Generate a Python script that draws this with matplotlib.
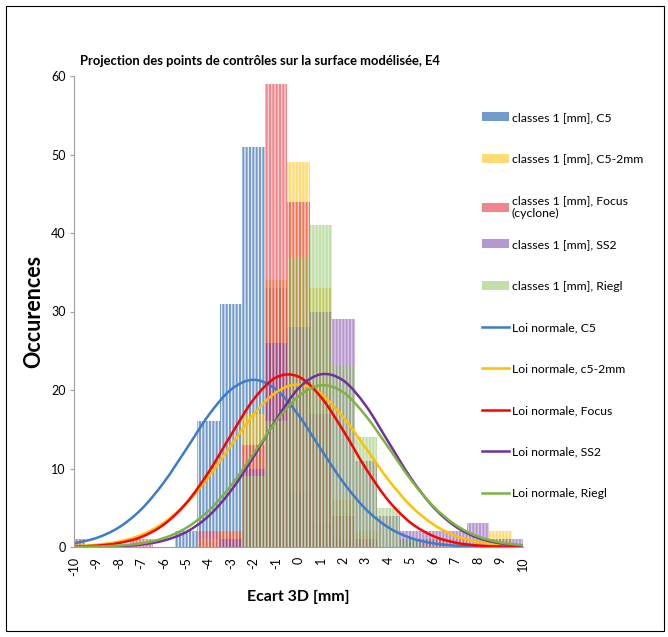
import numpy as np
import matplotlib
matplotlib.use("Agg")
import matplotlib.pyplot as plt
from matplotlib.path import Path
from matplotlib.patches import PathPatch, Patch, Rectangle
from matplotlib.lines import Line2D

plt.rcParams["font.family"] = ["Lato", "DejaVu Sans"]
plt.rcParams["hatch.linewidth"] = 1.0

# classes of 1 mm, from -10 to 10
classes = list(range(-10, 11))

# histogram counts per class
hist_c5 =     [0, 0, 0, 0, 0, 2, 16, 31, 51, 33, 7, 3, 1, 0, 0, 1, 1, 0, 0, 0, 0]
hist_c5_2mm = [1, 0, 0, 0, 0, 0, 1, 2, 17, 34, 49, 33, 6, 2, 0, 0, 1, 1, 0, 2, 0]
hist_focus =  [1, 0, 0, 1, 0, 0, 2, 2, 13, 59, 44, 17, 4, 1, 0, 0, 0, 0, 0, 0, 0]
hist_ss2 =    [0, 0, 0, 0, 0, 0, 0, 1, 10, 26, 28, 30, 29, 11, 4, 2, 2, 2, 3, 1, 1]
hist_riegl =  [0, 0, 0, 0, 0, 0, 0, 0, 9, 16, 37, 41, 23, 14, 5, 1, 0, 0, 0, 0, 0]

# normal law curves, read at each class
norm_c5 =     [0.47, 1.15, 2.50, 4.81, 8.22, 12.46, 16.8, 20.07, 21.3, 20.07, 16.8,
               12.46, 8.22, 4.81, 2.50, 1.15, 0.47, 0.17, 0.06, 0.02, 0.0]
norm_c5_2mm = [0.10, 0.28, 0.69, 1.54, 3.09, 5.55, 8.95, 12.96, 16.9, 19.7, 20.7,
               19.5, 16.5, 12.6, 8.57, 5.25, 2.89, 1.43, 0.64, 0.25, 0.09]
norm_focus =  [0.05, 0.17, 0.51, 1.28, 2.86, 5.59, 9.55, 14.3, 18.8, 21.6, 21.7,
               19.1, 14.8, 10.0, 5.93, 3.08, 1.40, 0.55, 0.19, 0.06, 0.02]
norm_ss2 =    [0.01, 0.03, 0.10, 0.31, 0.82, 1.91, 3.95, 7.2, 11.5, 16.2, 20.2,
               22.0, 21.2, 18.0, 13.4, 8.8, 5.1, 2.6, 1.16, 0.46, 0.16]
norm_riegl =  [0.02, 0.06, 0.18, 0.47, 1.13, 2.43, 4.63, 7.84, 11.9, 16.0, 19.2,
               20.6, 19.7, 16.7, 12.7, 8.6, 5.2, 2.8, 1.33, 0.57, 0.22]

hist_labels = ["classes 1 [mm], C5", "classes 1 [mm], C5-2mm",
               "classes 1 [mm], Focus\n(cyclone)", "classes 1 [mm], SS2",
               "classes 1 [mm], Riegl"]
norm_labels = ["Loi normale, C5", "Loi normale, c5-2mm", "Loi normale, Focus",
               "Loi normale, SS2", "Loi normale, Riegl"]

bar_colors = ["#4F81BD", "#FFC000", "#E6353F", "#7030A0", "#77B843"]
bar_alpha = [0.8, 0.55, 0.6, 0.5, 0.45]
line_colors = ["#3D7CC9", "#FFC000", "#FF0000", "#7030A0", "#7CB342"]


def smooth_path(xs, ys):
    # Excel-like smoothed line: cubic bezier through the points
    pts = np.column_stack([xs, ys]).astype(float)
    ext = np.vstack([pts[0], pts, pts[-1]])
    verts = [pts[0]]
    codes = [Path.MOVETO]
    for i in range(len(pts) - 1):
        p0, p1, p2, p3 = ext[i], ext[i + 1], ext[i + 2], ext[i + 3]
        verts += [p1 + (p2 - p0) / 6, p2 - (p3 - p1) / 6, p2]
        codes += [Path.CURVE4] * 3
    return Path(verts, codes)


fig = plt.figure(figsize=(6.68, 6.37), dpi=100)
ax = fig.add_axes([74 / 668, 90 / 637, 449 / 668, 471 / 637])

hists = [hist_c5, hist_c5_2mm, hist_focus, hist_ss2, hist_riegl]
for h, c, a in zip(hists, bar_colors, bar_alpha):
    ax.bar(classes, h, width=1.0, color=c, alpha=a, hatch="|||||",
           edgecolor="white", linewidth=0)

norms = [norm_c5, norm_c5_2mm, norm_focus, norm_ss2, norm_riegl]
for n, c in zip(norms, line_colors):
    ax.add_patch(PathPatch(smooth_path(classes, n), fill=False,
                           edgecolor=c, linewidth=1.8, capstyle="round"))

ax.set_xlim(-10, 10)
ax.set_ylim(0, 60)
ax.set_xticks(classes)
ax.set_xticklabels([str(v) for v in classes], rotation=90, fontsize=9)
ax.set_yticks(range(0, 61, 10))
ax.tick_params(axis="y", labelsize=9, length=3, color="#A0A0A0", pad=3)
ax.tick_params(axis="x", length=0, pad=7)
for s in ["top", "right"]:
    ax.spines[s].set_visible(False)
for s in ["left", "bottom"]:
    ax.spines[s].set_color("#A0A0A0")

ax.set_xlabel("Ecart 3D [mm]", fontsize=11.5, fontweight="bold", labelpad=10)
ax.set_ylabel("Occurences", fontsize=15.5, fontweight="bold", labelpad=5)
fig.text(260 / 668, 1 - 61 / 637,
         "Projection des points de contrôles sur la surface modélisée, E4",
         ha="center", va="center", fontsize=9.4, fontweight="bold")

handles = [Patch(facecolor=c, alpha=a, linewidth=0) for c, a in zip(bar_colors, bar_alpha)]
handles += [Line2D([], [], color=c, linewidth=1.8) for c in line_colors]
labels = hist_labels + norm_labels

# two legend blocks so the rows keep an even pitch despite the two-line entry
leg_kw = dict(loc="upper left", frameon=False, fontsize=8.8, handlelength=2.2,
              handleheight=0.8, handletextpad=0.25, labelspacing=2.5)
fig.legend(handles[:3], labels[:3], bbox_to_anchor=(471 / 668, 1 - 101 / 637), **leg_kw)
fig.legend(handles[3:], labels[3:], bbox_to_anchor=(471 / 668, 1 - 228 / 637), **leg_kw)

fig.add_artist(Rectangle((6 / 668, 6 / 637), 658 / 668, 625 / 637,
                         transform=fig.transFigure, fill=False,
                         edgecolor="black", linewidth=0.8))

fig.savefig("out.png", dpi=100)
